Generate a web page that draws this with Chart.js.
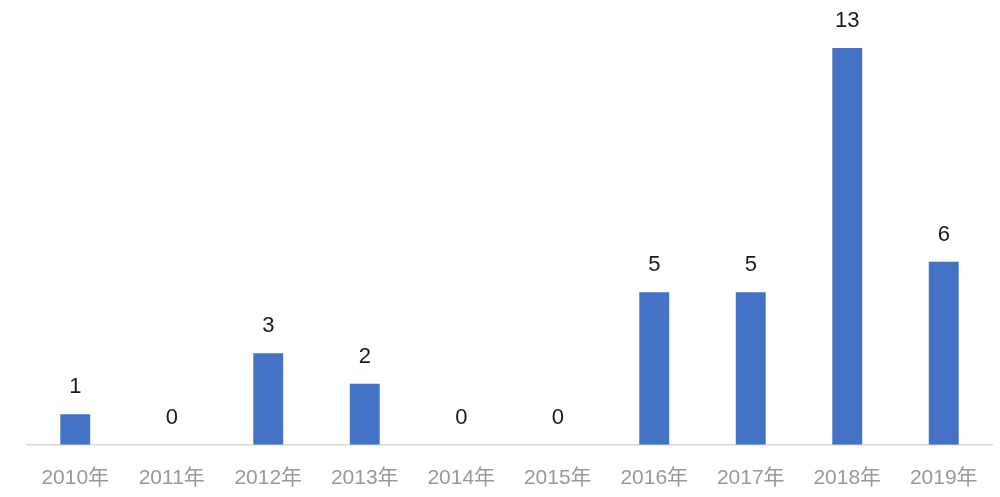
<!DOCTYPE html>
<html>
<head>
<meta charset="utf-8">
<script src="https://cdn.jsdelivr.net/npm/chart.js@4"></script>
<style>
  html, body { margin: 0; padding: 0; background: #fff; }
  #wrap { width: 1000px; height: 497px; }
</style>
</head>
<body>
<div id="wrap"><canvas id="myChart"></canvas></div>
<script>
// データ
const years = ['2010年', '2011年', '2012年', '2013年', '2014年', '2015年', '2016年', '2017年', '2018年', '2019年'];
const counts = [1, 0, 3, 2, 0, 0, 5, 5, 13, 6];

// 棒の上に数値を描く
const valueLabels = {
  id: 'valueLabels',
  afterDatasetsDraw(chart) {
    const ctx = chart.ctx;
    const meta = chart.getDatasetMeta(0);
    ctx.save();
    ctx.fillStyle = '#1a1a1a';
    ctx.font = '22px "Liberation Sans", "Noto Sans CJK JP", sans-serif';
    ctx.textAlign = 'center';
    ctx.textBaseline = 'middle';
    meta.data.forEach((bar, i) => {
      ctx.fillText(counts[i], bar.x, bar.y - 27);
    });
    ctx.restore();
  }
};

var ctx = document.getElementById('myChart').getContext('2d');
new Chart(ctx, {
  type: 'bar',
  data: {
    labels: years,
    datasets: [{
      data: counts,
      backgroundColor: '#4472C4',
      borderWidth: 0,
      barPercentage: 0.31,
      categoryPercentage: 1,
    }]
  },
  options: {
    responsive: true,
    maintainAspectRatio: false,
    animation: false,
    layout: {
      padding: { top: 48, left: 27, right: 8, bottom: -15 }
    },
    scales: {
      x: {
        grid: { display: false, drawTicks: false },
        border: { display: true, color: '#d9d9d9', width: 1.5 },
        ticks: {
          color: '#999',
          padding: 21,
          maxRotation: 0,
          font: { size: 21, family: '"Liberation Sans", "Noto Sans CJK JP", sans-serif' }
        }
      },
      y: {
        display: false,
        min: 0,
        max: 13,
      }
    },
    plugins: {
      legend: { display: false },
      tooltip: { enabled: false }
    }
  },
  plugins: [valueLabels]
});
</script>
</body>
</html>
